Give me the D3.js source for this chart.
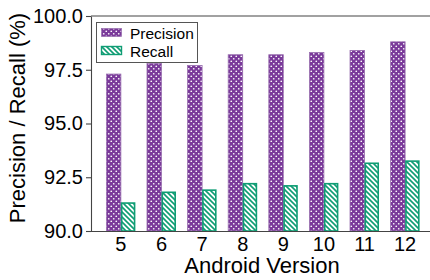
<!DOCTYPE html>
<html>
<head>
<meta charset="utf-8">
<script src="https://cdn.jsdelivr.net/npm/d3@7"></script>
<style>
  body { margin: 0; background: #fff; }
  text { font-family: "Liberation Sans", Arial, sans-serif; }
</style>
</head>
<body>
<div id="chart"></div>
<script>
// Android versions and their scores
const versions = ["5", "6", "7", "8", "9", "10", "11", "12"];
const precision = [97.3, 97.8, 97.7, 98.2, 98.2, 98.3, 98.4, 98.8];
const recall = [91.3, 91.8, 91.9, 92.2, 92.1, 92.2, 93.15, 93.25];
const yTicks = [90, 92.5, 95, 97.5, 100];

const purple = "#7a3a9a";
const green = "#0f9d74";

const W = 430, H = 280;
const margin = { top: 16, right: -5, bottom: 49, left: 91 };

const svg = d3.select("#chart").append("svg")
  .attr("width", W).attr("height", H);

// hatch patterns
const defs = svg.append("defs");
const pDots = defs.append("pattern")
  .attr("id", "dots").attr("patternUnits", "userSpaceOnUse")
  .attr("width", 5).attr("height", 5);
pDots.append("rect").attr("width", 5).attr("height", 5).attr("fill", purple);
pDots.append("circle").attr("cx", 1.25).attr("cy", 1.25).attr("r", 0.85).attr("fill", "#fff");
pDots.append("circle").attr("cx", 3.75).attr("cy", 3.75).attr("r", 0.85).attr("fill", "#fff");

const pLines = defs.append("pattern")
  .attr("id", "lines").attr("patternUnits", "userSpaceOnUse")
  .attr("width", 5).attr("height", 5);
pLines.append("rect").attr("width", 5).attr("height", 5).attr("fill", "#fff");
pLines.append("path")
  .attr("d", "M-1,-1L6,6M-1,4L1,6M4,-1L6,1")
  .attr("stroke", green).attr("stroke-width", 1.6);

const x = d3.scaleBand()
  .domain(versions)
  .range([margin.left, W - margin.right])
  .paddingInner(0)
  .paddingOuter(0.236);

const y = d3.scaleLinear()
  .domain([90, 100])
  .range([H - margin.bottom, margin.top]);

const bw = 14.5;

// bars
svg.append("g").selectAll("rect")
  .data(versions)
  .enter().append("rect")
  .attr("x", (d) => x(d) + x.bandwidth() / 2 - bw)
  .attr("y", (d, i) => y(precision[i]))
  .attr("width", bw)
  .attr("height", (d, i) => y(90) - y(precision[i]))
  .attr("fill", "url(#dots)")
  .attr("stroke", "#9a70b0")
  .attr("stroke-width", 0.8);

svg.append("g").selectAll("rect")
  .data(versions)
  .enter().append("rect")
  .attr("x", (d) => x(d) + x.bandwidth() / 2 + 0.8)
  .attr("y", (d, i) => y(recall[i]))
  .attr("width", bw - 1.6)
  .attr("height", (d, i) => y(90) - y(recall[i]))
  .attr("fill", "url(#lines)")
  .attr("stroke", green)
  .attr("stroke-width", 1.6);

// frame
svg.append("line")
  .attr("x1", margin.left).attr("x2", W)
  .attr("y1", margin.top).attr("y2", margin.top)
  .attr("stroke", "#444").attr("stroke-width", 1.1);

// y axis
const yAxis = svg.append("g")
  .attr("transform", `translate(${margin.left},0)`)
  .call(d3.axisLeft(y).tickValues(yTicks).tickFormat(d3.format(".1f"))
    .tickSize(5).tickSizeOuter(0).tickPadding(3));
yAxis.selectAll("text").attr("font-size", 20).attr("fill", "#000")
  .style("font-family", "'Liberation Sans', Arial, sans-serif");
yAxis.selectAll("line, path").attr("stroke", "#444").attr("stroke-width", 1.1);

// x axis
const xAxis = svg.append("g")
  .attr("transform", `translate(0,${H - margin.bottom})`)
  .call(d3.axisBottom(x).tickSize(0).tickSizeOuter(0).tickPadding(6));
xAxis.select("path").attr("d", `M${margin.left},0.5H${W}`)
  .attr("stroke", "#444").attr("stroke-width", 1.1);
xAxis.selectAll("text").attr("font-size", 20).attr("fill", "#000")
  .style("font-family", "'Liberation Sans', Arial, sans-serif");

// axis titles
svg.append("text")
  .attr("x", 262).attr("y", 273)
  .attr("text-anchor", "middle")
  .attr("font-size", 22)
  .text("Android Version");

svg.append("text")
  .attr("transform", "translate(25,118) rotate(-90)")
  .attr("text-anchor", "middle")
  .attr("font-size", 22)
  .text("Precision / Recall (%)");

// legend
const lg = svg.append("g");
lg.append("rect")
  .attr("x", 96.5).attr("y", 22.5)
  .attr("width", 101).attr("height", 40)
  .attr("fill", "#fff").attr("stroke", "#555").attr("stroke-width", 1);
const items = [
  { label: "Precision", fill: "url(#dots)", stroke: "#9a70b0", sw: 0.8 },
  { label: "Recall", fill: "url(#lines)", stroke: green, sw: 1.4 }
];
items.forEach((it, i) => {
  lg.append("rect")
    .attr("x", 101.5).attr("y", 28.5 + i * 18)
    .attr("width", 20).attr("height", 8)
    .attr("fill", it.fill).attr("stroke", it.stroke).attr("stroke-width", it.sw);
  lg.append("text")
    .attr("x", 130).attr("y", 38.5 + i * 18)
    .attr("font-size", 15.5)
    .text(it.label);
});
</script>
</body>
</html>
